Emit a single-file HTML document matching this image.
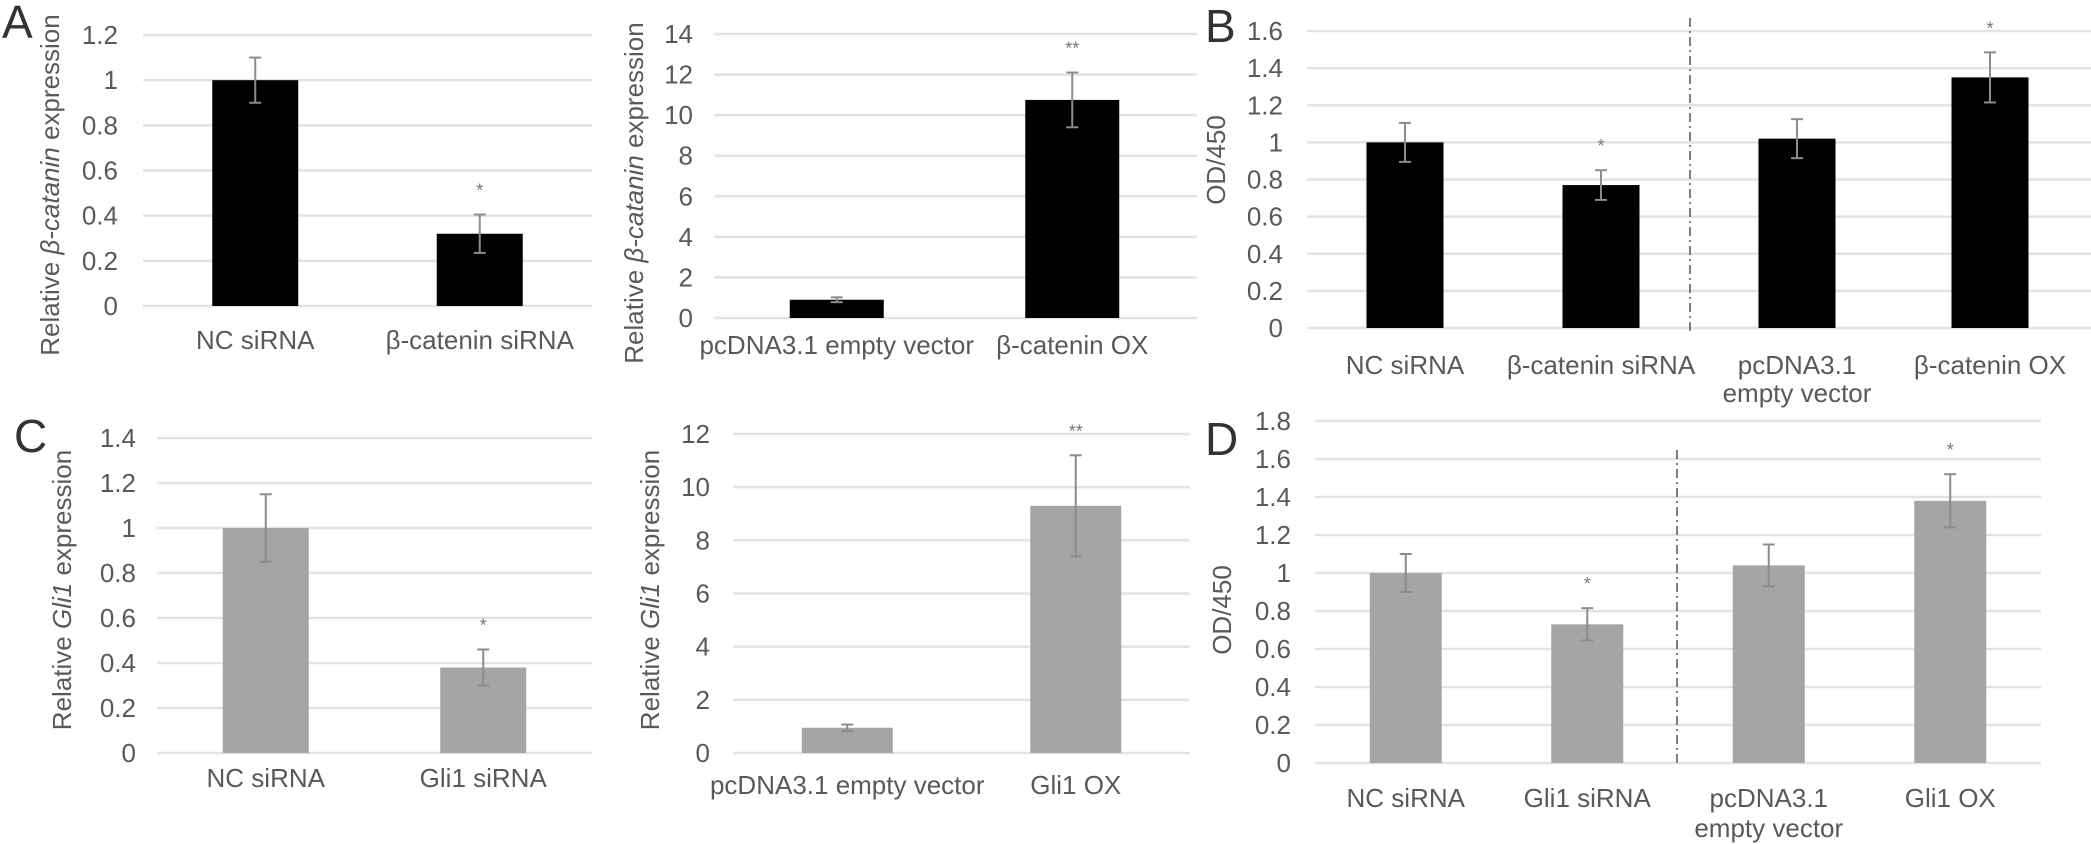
<!DOCTYPE html>
<html><head><meta charset="utf-8"><style>
html,body{margin:0;padding:0;background:#fff;}
svg{display:block;font-family:"Liberation Sans",Arial,sans-serif;}
</style></head><body>
<svg id="fig" width="2091" height="844" viewBox="0 0 2091 844" xmlns="http://www.w3.org/2000/svg">
<text x="2" y="38" font-size="46" fill="#333">A</text>
<text x="1205" y="42" font-size="46" fill="#333">B</text>
<text x="14" y="452" font-size="46" fill="#333">C</text>
<text x="1205" y="455" font-size="46" fill="#333">D</text>
</svg>
<script>
// ---- data ----
const catsA1 = ["NC siRNA", "β-catenin  siRNA"];
const valsA1 = [1.0, 0.32];
const errA1 = [0.1, 0.085];
const starA1 = ["", "*"];
const ticksA1 = [0, 0.2, 0.4, 0.6, 0.8, 1, 1.2];

const catsA2 = ["pcDNA3.1 empty vector", "β-catenin OX"];
const valsA2 = [0.9, 10.75];
const errA2 = [0.12, 1.35];
const starA2 = ["", "**"];
const ticksA2 = [0, 2, 4, 6, 8, 10, 12, 14];

const catsB = [["NC siRNA"], ["β-catenin siRNA"], ["pcDNA3.1", "empty vector"], ["β-catenin OX"]];
const valsB = [1.0, 0.77, 1.02, 1.35];
const errB = [0.105, 0.08, 0.105, 0.135];
const starB = ["", "*", "", "*"];
const ticksB = [0, 0.2, 0.4, 0.6, 0.8, 1, 1.2, 1.4, 1.6];

const catsC1 = ["NC siRNA", "Gli1 siRNA"];
const valsC1 = [1.0, 0.38];
const errC1 = [0.15, 0.08];
const starC1 = ["", "*"];
const ticksC1 = [0, 0.2, 0.4, 0.6, 0.8, 1, 1.2, 1.4];

const catsC2 = ["pcDNA3.1 empty vector", "Gli1 OX"];
const valsC2 = [0.95, 9.3];
const errC2 = [0.12, 1.9];
const starC2 = ["", "**"];
const ticksC2 = [0, 2, 4, 6, 8, 10, 12];

const catsD = [["NC siRNA"], ["Gli1 siRNA"], ["pcDNA3.1", "empty vector"], ["Gli1 OX"]];
const valsD = [1.0, 0.73, 1.04, 1.38];
const errD = [0.1, 0.085, 0.11, 0.14];
const starD = ["", "*", "", "*"];
const ticksD = [0, 0.2, 0.4, 0.6, 0.8, 1, 1.2, 1.4, 1.6, 1.8];

const NS = "http://www.w3.org/2000/svg";
const svg = document.getElementById("fig");
function mk(tag, attrs, parent) {
  const e = document.createElementNS(NS, tag);
  for (const k in attrs) e.setAttribute(k, attrs[k]);
  (parent || svg).appendChild(e);
  return e;
}

function drawPanel(p, cats, vals, errs, stars, ticks) {
  const g = mk("g", {});
  
  
  const y = v => p.zero - (v - ticks[0]) / (ticks[ticks.length - 1] - ticks[0]) * p.h;
  const n = cats.length;
  const bw = (p.x1 - p.x0) / n;
  const xc = i => p.x0 + bw * (i + 0.5) + p.shift[i];
  ticks.forEach(t => {
    const gl = mk("line", {x1: p.x0, x2: p.x1, y1: y(t), y2: y(t), stroke: "#e3e3e3", "stroke-width": 2.5}, g);
    
    
    const tl = mk("text", {x: p.tickRight, y: y(t), "text-anchor": "end", "dominant-baseline": "central", "font-size": p.fs, fill: "#595959"}, g);
    
    
    tl.textContent = String(t);
  });
  const tt = mk("text", {transform: `translate(${p.titleX},${p.titleY}) rotate(-90)`, "text-anchor": "middle", "dominant-baseline": "central", "font-size": p.fs, fill: "#595959"}, g);
  
  
  p.title.forEach(part => {
    const ts = mk("tspan", part[1] ? {"font-style": "italic"} : {}, tt);
    ts.textContent = part[0];
  });
  if (p.dash) {
    const dl = mk("line", {x1: p.dash[0], x2: p.dash[0], y1: p.dash[1], y2: p.dash[2], stroke: "#555", "stroke-width": 1.5, "stroke-dasharray": "9,4,2,4"}, g);
    
    
  }
  vals.forEach((v, i) => {
    const cx = xc(i);
    const r = mk("rect", {x: cx - p.barW / 2, y: y(v), width: p.barW, height: y(0) - y(v), fill: p.color}, g);
    
    
    const e = errs[i];
    const eg = mk("g", {stroke: "#8c8c8c", "stroke-width": 2}, g);
    
    
    mk("line", {x1: cx, x2: cx, y1: y(v + e), y2: y(v - e)}, eg);
    mk("line", {x1: cx - 6, x2: cx + 6, y1: y(v + e), y2: y(v + e)}, eg);
    mk("line", {x1: cx - 6, x2: cx + 6, y1: y(v - e), y2: y(v - e)}, eg);
    if (stars[i]) {
      const st = mk("text", {x: cx, y: y(v + e) - 18, "text-anchor": "middle", "font-size": 18, fill: "#777"}, g);
      
      
      st.textContent = stars[i];
    }
    const lines = Array.isArray(cats[i]) ? cats[i] : [cats[i]];
    lines.forEach((ln, k) => {
      const cl = mk("text", {x: cx, y: p.labelY + k * p.lineH, "text-anchor": "middle", "dominant-baseline": "central", "font-size": p.fs, fill: "#595959"}, g);
      
      
      cl.textContent = ln;
    });
  });
}

drawPanel({name: "chart-a-knockdown", x0: 143, x1: 592, zero: 306, h: 271, tickRight: 118, titleX: 50, titleY: 185, barW: 86, color: "#000", labelY: 340, lineH: 0, fs: 26, shift: [0, 0],
  title: [["Relative "], ["β-catanin", true], [" expression"]]}, catsA1, valsA1, errA1, starA1, ticksA1);
drawPanel({name: "chart-a-overexpression", x0: 714, x1: 1197, zero: 318, h: 284, tickRight: 693, titleX: 634, titleY: 193, barW: 94, color: "#000", labelY: 345, lineH: 0, fs: 26, shift: [2, -4],
  title: [["Relative "], ["β-catanin", true], [" expression"]]}, catsA2, valsA2, errA2, starA2, ticksA2);
drawPanel({name: "chart-b-od450", x0: 1307, x1: 2091, zero: 328, h: 297, tickRight: 1283, titleX: 1216, titleY: 160, barW: 77, color: "#000", labelY: 365, lineH: 28, fs: 26, shift: [0, 0, 0, -3], dash: [1690, 18, 332],
  title: [["OD/450"]]}, catsB, valsB, errB, starB, ticksB);
drawPanel({name: "chart-c-knockdown", x0: 157, x1: 592, zero: 753, h: 315, tickRight: 136, titleX: 62, titleY: 590, barW: 86, color: "#a5a5a5", labelY: 778, lineH: 0, fs: 26, shift: [0, 0],
  title: [["Relative "], ["Gli1", true], [" expression"]]}, catsC1, valsC1, errC1, starC1, ticksC1);
drawPanel({name: "chart-c-overexpression", x0: 733, x1: 1190, zero: 753, h: 319, tickRight: 710, titleX: 650, titleY: 590, barW: 91, color: "#a5a5a5", labelY: 785, lineH: 0, fs: 26, shift: [0, 0],
  title: [["Relative "], ["Gli1", true], [" expression"]]}, catsC2, valsC2, errC2, starC2, ticksC2);
drawPanel({name: "chart-d-od450", x0: 1315, x1: 2041, zero: 763, h: 342, tickRight: 1291, titleX: 1222, titleY: 610, barW: 72, color: "#a5a5a5", labelY: 798, lineH: 30, fs: 26, shift: [0, 0, 0, 0], dash: [1677, 450, 763],
  title: [["OD/450"]]}, catsD, valsD, errD, starD, ticksD);
</script>
</body></html>
